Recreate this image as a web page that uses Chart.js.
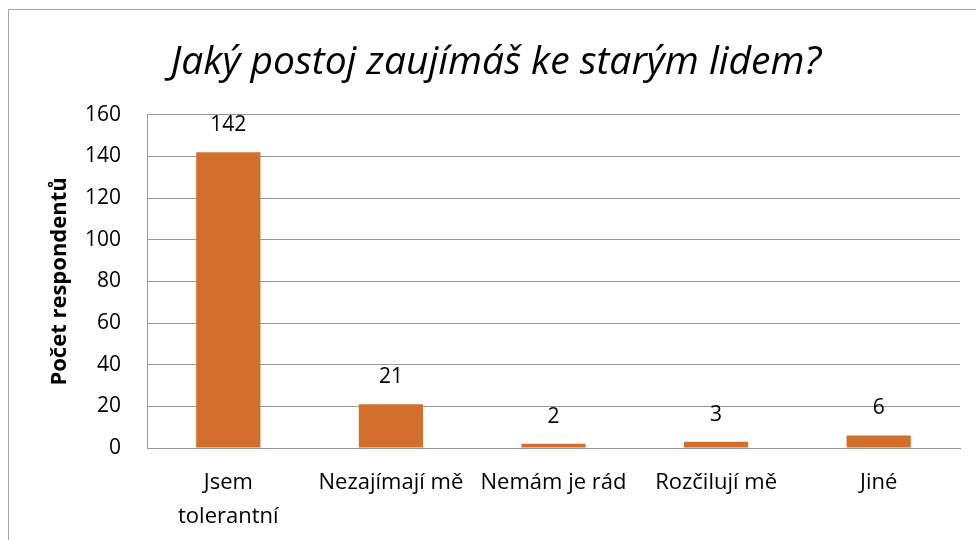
<!DOCTYPE html>
<html>
<head>
<meta charset="utf-8">
<script src="https://cdn.jsdelivr.net/npm/chart.js@4.4.1/dist/chart.umd.min.js"></script>
<style>
  html, body { margin: 0; padding: 0; background: #fff; }
  #wrap { position: relative; width: 976px; height: 540px; overflow: hidden; }
  #frame { position: absolute; left: 8px; top: 9px; width: 1000px; height: 600px; border: 1px solid #a6a6a6; box-sizing: border-box; }
  canvas { position: absolute; left: 0; top: 0; }
</style>
</head>
<body>
<div id="wrap">
  <div id="frame"></div>
  <canvas id="c" width="976" height="540"></canvas>
</div>
<script>
// data
const categories = [['Jsem', 'tolerantní'], 'Nezajímají mě', 'Nemám je rád', 'Rozčilují mě', 'Jiné'];
const counts = [142, 21, 2, 3, 6];
const yTicks = [0, 20, 40, 60, 80, 100, 120, 140, 160];

const F = "'Open Sans', sans-serif";
const GRID = '#999999';

const valueLabels = {
  id: 'valueLabels',
  afterDatasetsDraw(chart) {
    const ctx = chart.ctx;
    chart.getDatasetMeta(0).data.forEach((bar, i) => {
      ctx.save();
      ctx.fillStyle = '#000';
      ctx.font = `21px ${F}`;
      ctx.textAlign = 'center';
      ctx.textBaseline = 'middle';
      ctx.fillText(String(counts[i]), bar.x, bar.y - 27);
      ctx.restore();
    });
  }
};

new Chart(document.getElementById('c'), {
  type: 'bar',
  data: {
    labels: categories,
    datasets: [{
      data: counts,
      backgroundColor: '#d26f2c',
      borderWidth: 0,
      categoryPercentage: 1,
      barPercentage: 0.395
    }]
  },
  options: {
    responsive: false,
    animation: false,
    // left padding pushes the title centre to the middle of the frame
    layout: { padding: { left: 32, right: 16, top: 0, bottom: 0 } },
    plugins: {
      legend: { display: false },
      tooltip: { enabled: false },
      title: {
        display: true,
        text: 'Jaký postoj zaujímáš ke starým lidem?',
        color: '#000',
        font: { family: F, size: 39, style: 'italic', weight: 'normal', lineHeight: 1.2 },
        padding: { top: 39, bottom: 29 }
      }
    },
    scales: {
      x: {
        grid: { display: false },
        border: { color: GRID, width: 1 },
        ticks: { color: '#000', font: { family: F, size: 22, lineHeight: 1.55 }, padding: 10, maxRotation: 0, autoSkip: false },
        afterFit: s => { s.height = 92; }
      },
      y: {
        min: 0, max: 160,
        afterBuildTicks: s => { s.ticks = yTicks.map(v => ({ value: v })); },
        grid: { color: GRID, drawTicks: false },
        border: { color: GRID, width: 1 },
        ticks: { color: '#000', font: { family: F, size: 21 }, padding: 26 },
        title: {
          display: true,
          text: 'Počet respondentů',
          color: '#000',
          font: { family: F, size: 22, weight: 'bold' },
          padding: { top: 15, bottom: 0 }
        },
        afterFit: s => { s.width = 115; }
      }
    }
  },
  plugins: [valueLabels]
});
</script>
</body>
</html>
